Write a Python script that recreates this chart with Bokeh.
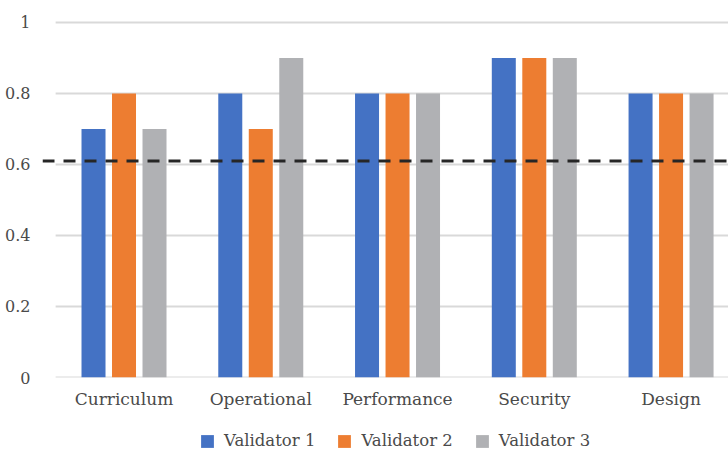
import numpy as np
from bokeh.plotting import figure
from bokeh.layouts import column
from bokeh.models import FixedTicker, Span, Legend, LegendItem, Range1d
from bokeh.embed import file_html
from bokeh.resources import INLINE

categories = ["Curriculum", "Operational", "Performance", "Security", "Design"]
validator1 = [0.7, 0.8, 0.8, 0.9, 0.8]
validator2 = [0.8, 0.7, 0.8, 0.9, 0.8]
validator3 = [0.7, 0.9, 0.8, 0.9, 0.8]
series_names = ["Validator 1", "Validator 2", "Validator 3"]
threshold = 0.61
y_ticks = [0, 0.2, 0.4, 0.6, 0.8, 1.0]
y_tick_labels = ["0", "0.2", "0.4", "0.6", "0.8", "1"]

colors = ["#4472C4", "#ED7D31", "#B0B1B4"]
FONT = "DejaVu Serif"
TXT = "#4A4A4A"

p = figure(width=728, height=415, output_backend="svg", toolbar_location=None,
           x_range=Range1d(-0.596, 4.42), y_range=Range1d(0, 1.028),
           min_border_left=42, min_border_right=0, min_border_top=12,
           min_border_bottom=38)
p.outline_line_color = None
p.xgrid.visible = False
p.ygrid.visible = False
p.background_fill_color = "white"
p.border_fill_color = "white"

# gridlines
n = len(categories)
p.segment(x0=[-0.5] * len(y_ticks), x1=[n - 0.5] * len(y_ticks), y0=y_ticks, y1=y_ticks,
          line_color="#D9D9D9", line_width=2)

xs = np.arange(n)
offsets = [-0.223, 0.0, 0.223]
for vals, off, col in zip([validator1, validator2, validator3], offsets, colors):
    p.vbar(x=list(xs + off), top=vals, bottom=0, width=0.1755, fill_color=col, line_color=None)

p.add_layout(Span(location=threshold, dimension="width", line_color="#262626",
                  line_width=3, line_dash="12 9"))

# axes
p.yaxis.ticker = FixedTicker(ticks=y_ticks)
p.yaxis.major_label_overrides = {t: l for t, l in zip(y_ticks, y_tick_labels)}
p.xaxis.ticker = FixedTicker(ticks=list(range(n)))
p.xaxis.major_label_overrides = {i: c for i, c in enumerate(categories)}
for ax in (p.xaxis, p.yaxis):
    ax.axis_line_color = None
    ax.major_tick_line_color = None
    ax.minor_tick_line_color = None
    ax.major_label_text_font = FONT
    ax.major_label_text_color = TXT
p.yaxis.major_label_text_font_size = "16px"
p.xaxis.major_label_text_font_size = "17px"
p.yaxis.major_label_standoff = 6
p.xaxis.major_label_standoff = 5

# legend strip (proxy renderers sit outside the visible range)
lg = figure(width=728, height=35, output_backend="svg", toolbar_location=None,
            x_range=Range1d(0, 1), y_range=Range1d(0, 1),
            min_border_left=0, min_border_right=0, min_border_top=0, min_border_bottom=0)
lg.axis.visible = False
lg.grid.visible = False
lg.outline_line_color = None
lg.border_fill_color = "white"
items = []
for nm, col in zip(series_names, colors):
    r = lg.vbar(x=[-5], top=[-5], bottom=[-6], width=0.1, fill_color=col, line_color=None)
    items.append(LegendItem(label=nm, renderers=[r]))
legend = Legend(items=items, orientation="horizontal", location=(157, 0),
                label_text_font=FONT, label_text_font_size="16.5px", label_text_color=TXT,
                glyph_width=16, glyph_height=16, label_standoff=9, spacing=21,
                padding=2, margin=0, border_line_color=None, background_fill_alpha=0)
lg.add_layout(legend)

layout = column(p, lg, spacing=0)
open("out.html", "w").write(file_html(layout, INLINE))
